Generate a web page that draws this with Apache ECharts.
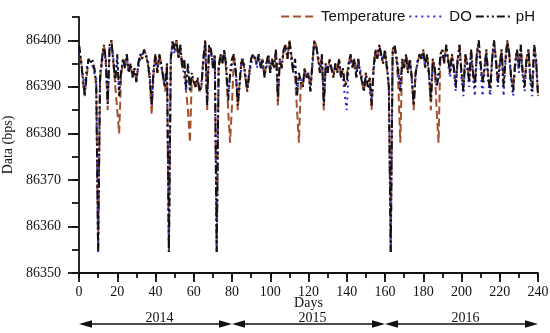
<!DOCTYPE html>
<html><head><meta charset="utf-8">
<script src="https://cdn.jsdelivr.net/npm/echarts@6/dist/echarts.min.js"></script>
<style>html,body{margin:0;padding:0;background:#fff}#c{width:550px;height:333px}</style>
</head><body><div id="c"></div>
<script>
// Days 0..240
const phValues = [
86399,86396,86392,86388,86393,86396,86395,86396,86394,86391,
86354.5,86392,86396,86399,86396,86386,86399,86400,86395,86391,
86397,86388,86393,86396,86394,86397,86393,86395,86392,86394,
86391,86395,86397,86396,86398,86398,86395,86392,86386,86394,
86397,86393,86397,86395,86392,86390,86395,86354.5,86396,86400,
86398,86400,86396,86399,86394,86396,86390,86395,86389,86393,
86391,86390,86392,86389,86390,86396,86400,86386,86399,86398,
86394,86397,86354.5,86394,86397,86395,86398,86394,86387,86393,
86396,86397,86393,86386,86391,86396,86395,86392,86389,86393,
86396,86397,86396,86395,86397,86394,86396,86392,86395,86397,
86393,86396,86394,86398,86387,86396,86394,86398,86399,86396,
86400,86397,86393,86396,86388,86393,86391,86390,86394,86392,
86393,86389,86395,86400,86399,86396,86393,86397,86386,86395,
86393,86396,86394,86392,86395,86393,86396,86392,86394,86390,
86391,86395,86397,86394,86396,86392,86396,86393,86391,86389,
86393,86390,86392,86386,86394,86398,86396,86399,86397,86395,
86398,86394,86390,86354.5,86398,86399,86396,86393,86389,86396,
86394,86397,86393,86396,86392,86386,86393,86395,86397,86396,
86398,86394,86397,86393,86387,86396,86394,86390,86392,86397,
86398,86395,86399,86396,86393,86397,86394,86390,86396,86399,
86393,86389,86397,86395,86391,86398,86393,86390,86397,86400,
86395,86391,86394,86398,86392,86389,86396,86400,86396,86391,
86395,86398,86390,86396,86400,86397,86392,86389,86395,86398,
86394,86399,86393,86390,86396,86398,86392,86389,86399,86396,86388];

const doValues = [
86398,86395,86393,86389,86394,86396,86396,86395,86393,86392,
86354.5,86393,86395,86398,86395,86387,86398,86399,86396,86392,
86396,86389,86394,86395,86395,86396,86394,86394,86393,86393,
86392,86394,86396,86397,86397,86397,86396,86393,86386,86393,
86396,86394,86396,86394,86393,86391,86394,86354.5,86397,86399,
86397,86399,86397,86398,86395,86395,86389,86394,86390,86392,
86392,86391,86391,86390,86391,86395,86399,86387,86398,86397,
86395,86396,86354.5,86395,86396,86396,86397,86395,86388,86392,
86395,86396,86394,86387,86390,86395,86396,86393,86390,86392,
86395,86396,86397,86394,86396,86395,86395,86393,86394,86396,
86394,86395,86395,86397,86390,86395,86395,86397,86398,86397,
86399,86396,86394,86395,86389,86392,86392,86391,86393,86393,
86392,86390,86394,86399,86398,86397,86394,86396,86387,86394,
86394,86395,86395,86393,86394,86394,86395,86393,86392,86388,
86385,86394,86396,86395,86395,86393,86395,86394,86392,86390,
86392,86391,86391,86387,86393,86397,86397,86398,86396,86396,
86397,86395,86391,86354.5,86397,86398,86397,86394,86390,86395,
86395,86396,86394,86395,86391,86387,86392,86396,86396,86397,
86397,86395,86396,86392,86388,86395,86395,86391,86391,86396,
86397,86396,86398,86395,86392,86396,86393,86389,86395,86398,
86392,86388,86396,86394,86390,86397,86392,86388,86396,86399,
86394,86388,86393,86397,86391,86388,86395,86399,86395,86390,
86394,86397,86388,86395,86399,86396,86391,86388,86394,86397,
86393,86398,86392,86389,86395,86397,86391,86388,86398,86395,86389];

const temperatureValues = [
86399,86396,86391,86388,86392,86396,86395,86395,86394,86390,
86354.5,86391,86396,86399,86396,86385,86399,86400,86395,86390,
86385,86380,86392,86396,86394,86397,86393,86395,86392,86394,
86391,86395,86397,86396,86398,86397,86395,86391,86384,86393,
86397,86393,86397,86395,86392,86389,86395,86354.5,86396,86400,
86398,86400,86396,86399,86394,86396,86389,86385,86378,86392,
86391,86390,86392,86389,86390,86396,86400,86385,86399,86398,
86394,86397,86354.5,86394,86397,86395,86398,86393,86385,86378,
86386,86397,86393,86385,86391,86396,86395,86392,86389,86393,
86396,86397,86396,86395,86397,86394,86396,86392,86395,86397,
86393,86396,86394,86398,86386,86396,86394,86398,86399,86396,
86400,86397,86393,86392,86385,86378,86391,86390,86394,86392,
86393,86389,86395,86400,86399,86396,86393,86397,86385,86395,
86393,86396,86394,86392,86395,86393,86396,86392,86394,86390,
86390,86395,86397,86394,86396,86392,86396,86393,86391,86389,
86393,86390,86392,86385,86394,86398,86396,86399,86397,86395,
86398,86394,86390,86354.5,86398,86399,86396,86390,86378,86396,
86394,86397,86393,86396,86392,86385,86393,86395,86397,86396,
86398,86394,86397,86393,86385,86396,86394,86385,86378,86397,
86398,86395,86399,86396,86393,86397,86394,86391,86396,86399,
86393,86390,86397,86395,86391,86398,86393,86391,86397,86400,
86395,86391,86394,86398,86392,86390,86396,86400,86396,86391,
86395,86398,86391,86396,86400,86397,86392,86390,86395,86398,
86394,86399,86393,86391,86396,86398,86392,86390,86399,86396,86388];

const seriesNames = ['Temperature', 'DO', 'pH'];
const yMajorTicks = [86350, 86360, 86370, 86380, 86390, 86400];
const yearLabels = ['2014', '2015', '2016'];
const yearBounds = [0, 80, 160, 240];

const serif = 'Liberation Serif';
const sans = 'Liberation Sans';
const toPairs = arr => arr.map((v, i) => [i, v]);

const chart = echarts.init(document.getElementById('c'), null, {renderer: 'canvas'});
chart.setOption({
  animation: false,
  backgroundColor: '#fff',
  grid: {left: 79, right: 12, top: 17, bottom: 60, containLabel: false, outerBoundsMode: 'none'},
  legend: {
    data: seriesNames,
    right: 10, top: 4,
    itemWidth: 36, itemHeight: 14, itemGap: 3,
    itemStyle: {opacity: 0},
    textStyle: {fontFamily: sans, fontSize: 15, color: '#111', padding: [0, 0, 0, -1]}
  },
  xAxis: [{
    type: 'value', min: 0, max: 240, interval: 10, position: 'bottom',
    name: 'Days', nameLocation: 'middle', nameGap: 23, nameMoveOverlap: false,
    nameTextStyle: {fontFamily: serif, fontSize: 14, color: '#111'},
    axisLine: {lineStyle: {color: '#111', width: 1.8}},
    axisTick: {length: 5, lineStyle: {color: '#111', width: 1.8}},
    axisLabel: {margin: 12, fontFamily: serif, fontSize: 14, color: '#111',
      formatter: v => (v % 20 === 0 ? String(v) : '')},
    splitLine: {show: false}
  }, {
    type: 'value', min: 0, max: 240, interval: 20, position: 'bottom',
    axisLine: {show: false},
    axisTick: {length: 9, lineStyle: {color: '#111', width: 1.8}},
    axisLabel: {show: false},
    splitLine: {show: false}
  }],
  yAxis: [{
    type: 'value', min: 86350, max: 86405, interval: 5, position: 'left',
    name: 'Data (bps)', nameLocation: 'middle', nameGap: 64, nameRotate: 90, nameMoveOverlap: false,
    nameTextStyle: {fontFamily: serif, fontSize: 14, color: '#111'},
    axisLine: {show: true, lineStyle: {color: '#111', width: 1.8}},
    axisTick: {show: true, length: 7, lineStyle: {color: '#111', width: 1.8}},
    axisLabel: {margin: 18, fontFamily: serif, fontSize: 14, color: '#111',
      formatter: v => (v % 10 === 0 ? String(v) : '')},
    splitLine: {show: false}
  }, {
    type: 'value', min: 86350, max: 86405, interval: 10, position: 'left',
    axisLine: {show: false},
    axisTick: {show: true, length: 11, customValues: yMajorTicks, lineStyle: {color: '#111', width: 1.8}},
    axisLabel: {show: false},
    splitLine: {show: false}
  }],
  series: [{
    name: 'Temperature', type: 'line', symbol: 'none', xAxisIndex: 0, yAxisIndex: 0,
    data: toPairs(temperatureValues), color: '#a4502c',
    lineStyle: {color: '#a4502c', width: 2, type: [8, 4]}
  }, {
    name: 'DO', type: 'line', symbol: 'none', xAxisIndex: 0, yAxisIndex: 0,
    data: toPairs(doValues), color: '#2b2bd0',
    lineStyle: {color: '#2b2bd0', width: 2, type: [2, 4]}
  }, {
    name: 'pH', type: 'line', symbol: 'none', xAxisIndex: 0, yAxisIndex: 0,
    data: toPairs(phValues), color: '#111',
    lineStyle: {color: '#111', width: 2, type: [8, 3, 2, 3, 2, 3]}
  }]
});

// Year arrows below the axis
const yLine = 324;
const graphics = [];
const headL = 13, headH = 3.8;
for (let i = 0; i < yearLabels.length; i++) {
  const x0 = chart.convertToPixel({xAxisIndex: 0}, yearBounds[i]);
  const x1 = chart.convertToPixel({xAxisIndex: 0}, yearBounds[i + 1]);
  graphics.push({type: 'line', shape: {x1: x0 + 4, y1: yLine, x2: x1 - 4, y2: yLine},
    style: {stroke: '#111', lineWidth: 1.5}, silent: true});
  graphics.push({type: 'polygon', shape: {points: [[x0, yLine], [x0 + headL, yLine - headH], [x0 + headL, yLine + headH]]},
    style: {fill: '#111'}, silent: true});
  graphics.push({type: 'polygon', shape: {points: [[x1, yLine], [x1 - headL, yLine - headH], [x1 - headL, yLine + headH]]},
    style: {fill: '#111'}, silent: true});
  graphics.push({type: 'text', x: (x0 + x1) / 2 + 4, y: yLine - 6,
    style: {text: yearLabels[i], fontFamily: serif, fontSize: 14, fill: '#111', align: 'center', verticalAlign: 'middle'},
    silent: true});
}
chart.setOption({graphic: graphics});
</script>
</body></html>
